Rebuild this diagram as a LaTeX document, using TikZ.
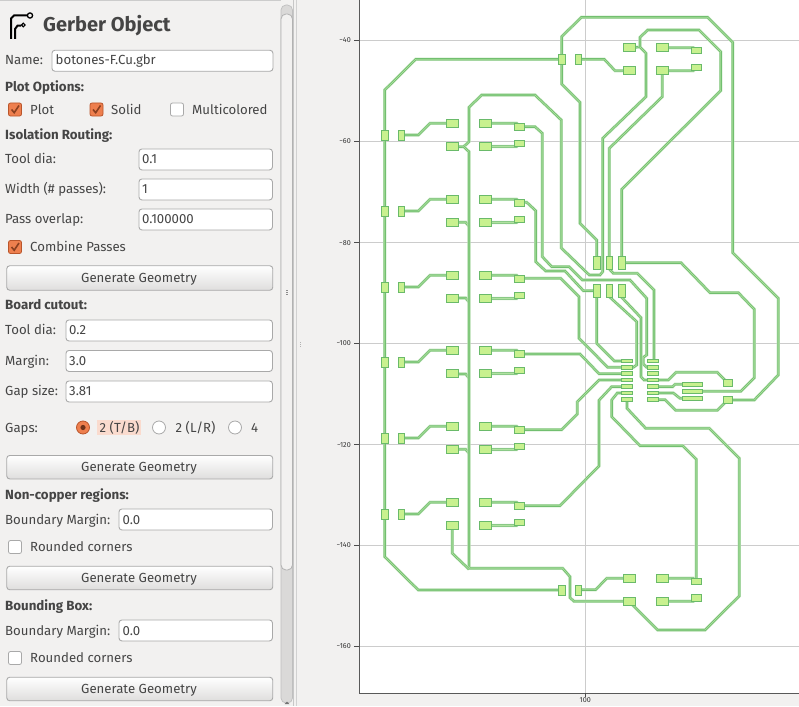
\documentclass[tikz,border=0pt]{standalone}
\usepackage{fontspec}
\setmainfont{Fira Sans}
\definecolor{uibg}{HTML}{F2F1F0}
\definecolor{uitext}{HTML}{454545}
\definecolor{uiline}{HTML}{A9A9A9}
\definecolor{orng}{HTML}{EE7F4E}
\definecolor{orngd}{HTML}{B9552B}
\definecolor{padfill}{HTML}{C8F18F}
\definecolor{tracedark}{HTML}{6ABA6A}
\definecolor{tracelight}{HTML}{B0E2A0}
\definecolor{halo}{HTML}{C6E6BF}
\definecolor{gridc}{HTML}{CCCCCC}
\tikzset{
  lab/.style={anchor=mid west,inner sep=0pt,text=uitext,font=\fontsize{13.2}{15}\selectfont,yshift=-2pt},
  head/.style={lab,font=\fontsize{13.3}{15}\selectfont\bfseries},
  entrybox/.style={anchor=north west,inner sep=0pt,draw=uiline,fill=white,rounded corners=3pt,line width=.9pt},
  entrytext/.style={lab},
  btn/.style={anchor=north west,inner sep=0pt,draw=uiline,rounded corners=3pt,line width=.9pt,top color=white,bottom color=uibg!92!black,minimum width=266pt},
  chkon/.style={anchor=center,inner sep=0pt,minimum size=13pt,draw=orngd,fill=orng,rounded corners=2pt,line width=.8pt},
  chkoff/.style={anchor=center,inner sep=0pt,minimum size=13pt,draw=uiline,fill=white,rounded corners=2pt,line width=.8pt},
  trace/.style={draw=tracedark,line width=2.1pt,line join=miter,
    preaction={draw=halo,line width=3.2pt},
    postaction={draw=tracelight,line width=.7pt}},
  pad/.style={draw=tracedark,fill=padfill,line width=.9pt,inner sep=0pt,anchor=center},
  padv/.style={pad,minimum width=6.5pt,minimum height=10pt},
  padr/.style={pad,minimum width=12pt,minimum height=8pt},
  pads/.style={pad,minimum width=10pt,minimum height=6.5pt},
  padt/.style={pad,minimum width=6.5pt,minimum height=13pt},
  padi/.style={pad,minimum width=11pt,minimum height=3.6pt},
  padw/.style={pad,minimum width=20pt,minimum height=4.4pt},
  padq/.style={pad,minimum width=9pt,minimum height=7pt},
  tick/.style={anchor=mid east,inner sep=0pt,text=black!80,font=\fontsize{7.2}{9}\selectfont},
}
\newcommand{\chkmark}[2]{\draw[orngd!75!black,line width=1.6pt] (#1-3.5,#2) -- (#1-.8,#2+3.2) -- (#1+4,#2-4);}
\begin{document}
\begin{tikzpicture}[x=1pt,y=-1pt]
\useasboundingbox (0,0) rectangle (799,706);
\fill[uibg] (0,0) rectangle (799,706);
% ---------- plot ----------
\fill[white] (359,0) rectangle (799,693);
\foreach \g in {40.3,141.3,242.7,343.3,444.5,545.3,646.3} \draw[gridc,line width=.8pt] (359,\g) -- (799,\g);
\draw[gridc,line width=.8pt] (585.3,0) -- (585.3,693);
\draw[black!65,line width=.9pt] (359,0) -- (359,693) -- (799,693);
\foreach \g/\t/\n in {40.3/40/a,141.3/60/b,242.7/80/c,343.3/100/d,444.5/120/e,545.3/140/f,646.3/160/g}{
  \draw[black!70,line width=.6pt] (354,\g) -- (359,\g);
  \node[tick] (tick\n) at (351,\g) {−\t};
}
\draw[black!70,line width=.6pt] (585.3,693) -- (585.3,697);
\node[inner sep=0pt,text=black!80,font=\fontsize{7.2}{9}\selectfont] (tickx) at (585.3,700.5) {100};
% ---------- traces ----------
\draw[trace] (561.7,59.3) -- (415.7,59.3) -- (384.7,90) -- (384.7,556.7) -- (418.3,590) -- (561.7,590);
\draw[trace] (727.7,400) -- (754.3,400) -- (778.3,375) -- (778.3,298.3) -- (732.7,252.7) -- (732.7,42.3) -- (707.7,17.3) -- (581.3,17.3) -- (561.7,36.7) -- (561.7,84) -- (580,102.3) -- (580,223.3) -- (596.7,240) -- (596.7,262.7);
\foreach \y in {135,211,287,362,438,514}{
  \draw[trace] (401.3,\y) -- (418.3,\y) -- (430,{\y-11.7}) -- (452.3,{\y-11.7});
  \draw[trace] (485.7,{\y-11.7}) -- (516.7,{\y-11.7}) -- (519.7,{\y-8.3});
  \draw[trace] (485.7,{\y+11.5}) -- (516.7,{\y+11.5}) -- (519.7,{\y+8.3});
}
\foreach \y in {222.3,298,374,449.3}{
  \draw[trace] (452.3,\y) -- (465.7,\y) -- (469,{\y+4});
}
\draw[trace] (452.3,146.7) -- (463.7,146.7) -- (469,141.7) -- (469,107.3) -- (481.7,95) -- (535,95) -- (561.3,120) -- (561.3,248) -- (589.3,275) -- (600,275) -- (602.7,271.7) -- (602.7,138.3) -- (646,96.7) -- (646,53.3) -- (640,47) -- (629,47.7);
\draw[trace] (463.7,146.7) -- (469,151.7) -- (469,568.3) -- (562.7,568.3) -- (570,576.7) -- (570,597.7) -- (574,601.3) -- (629,601.3);
\draw[trace] (452.3,525.3) -- (452.3,553.3) -- (469,569.3);
\draw[trace] (640,47) -- (640,37.3) -- (647.7,30) -- (699,30) -- (720.7,51.7) -- (720.7,90.7) -- (621.7,189.3) -- (621.7,262.7);
\draw[trace] (609.3,262.7) -- (609.3,148.3) -- (662.3,96.7) -- (662.3,70.7);
\draw[trace] (578.3,59.3) -- (604.3,59.3) -- (615,70.7) -- (629,70.7);
\draw[trace] (662.3,47.7) -- (693.3,47.7) -- (696.3,50.7);
\draw[trace] (662.3,70.7) -- (693.3,70.7) -- (696.3,67.7);
\draw[trace] (578.3,589.7) -- (595.7,589.7) -- (606.7,578.3) -- (629,578.3);
\draw[trace] (662.3,578.3) -- (693.3,578.3) -- (696.3,581.3);
\draw[trace] (662.3,601.3) -- (693.3,601.3) -- (696.3,598);
\draw[trace] (696.3,581.3) -- (696.3,459.3) -- (682.7,445.7) -- (640,445.7) -- (611.7,416.7) -- (611.7,400) -- (617.3,393) -- (627,393);
\draw[trace] (520,278.3) -- (560.7,278.3) -- (579,296.7) -- (579,338.3) -- (607.7,367.3) -- (627,367.3);
\draw[trace] (596.7,290.7) -- (596.7,343.3) -- (614.3,361) -- (627,361);
\draw[trace] (519.7,202.3) -- (526.7,202.3) -- (535.7,210.7) -- (535.7,261.7) -- (545.7,271) -- (565,271) -- (583.3,290.7) -- (596.7,290.7);
\draw[trace] (519.7,126.7) -- (535,126.7) -- (542.3,133.3) -- (542.3,256.7) -- (551.7,266.7) -- (569,266.7) -- (582.3,280) -- (630,280) -- (646.7,298.3) -- (646.7,355) -- (643.3,357.3) -- (643.3,364) -- (646.7,367.3) -- (653,367.3);
\draw[trace] (609.3,262.7) -- (609.3,269) -- (613.3,273.3) -- (637.3,273.3) -- (654,290) -- (654,361);
\draw[trace] (621.7,262.7) -- (681,262.7) -- (710,292.7) -- (738.3,292.7) -- (754.3,309.3) -- (754.3,377.7) -- (740.7,391.3) -- (692.3,391.3);
\draw[trace] (609.3,290.7) -- (609.3,296.7) -- (636.7,321.7) -- (636.7,365) -- (633.3,367.3) -- (627,367.3);
\draw[trace] (621.7,290.7) -- (621.7,297.3) -- (641,317.7) -- (641,376.7) -- (644,380) -- (668.3,380) -- (676,372.3) -- (717.3,372.3) -- (727.7,383);
\draw[trace] (653,386.7) -- (672.7,386.7) -- (675,384.3) -- (692.3,384.3);
\draw[trace] (653,393) -- (673.3,393) -- (680,398.3) -- (692.3,398.3);
\draw[trace] (653,399.7) -- (665,399.7) -- (675.7,410.3) -- (717.3,410.3) -- (727.7,400);
\draw[trace] (519.7,354) -- (580,354) -- (599,373.7) -- (627,373.7);
\draw[trace] (627,380) -- (599,380) -- (577.3,401.7) -- (577.3,414) -- (561.7,429.7) -- (519.7,429.7);
\draw[trace] (627,386.7) -- (611.7,386.7) -- (599,400.3) -- (599,466) -- (560,505.7) -- (519.7,505.7);
\draw[trace] (627,399.7) -- (627,408.3) -- (645.7,428.3) -- (709.3,428.3) -- (739.3,458.3) -- (739.3,596) -- (705,630) -- (657.7,630) -- (629,601.3);
% ---------- pads ----------
\foreach \y/\n in {135/1,211/2,287/3,362/4,438/5,514/6}{
  \node[padv] (a\n) at (384.7,\y) {};
  \node[padv] (b\n) at (401.3,\y) {};
  \node[padr] (ct\n) at (452.3,{\y-11.7}) {};
  \node[padr] (cb\n) at (452.3,{\y+11.5}) {};
  \node[padr] (dt\n) at (485.7,{\y-11.7}) {};
  \node[padr] (db\n) at (485.7,{\y+11.5}) {};
  \node[pads] (et\n) at (519.7,{\y-8.3}) {};
  \node[pads] (eb\n) at (519.7,{\y+8.3}) {};
}
\node[padv] (f1) at (561.7,59.3) {};
\node[padv] (g1) at (578.3,59.3) {};
\node[padv] (f2) at (561.7,590) {};
\node[padv] (g2) at (578.3,590) {};
\foreach \x/\n in {629/h,662.3/k}{
  \node[padr] (\n1) at (\x,47.7) {};
  \node[padr] (\n2) at (\x,70.7) {};
  \node[padr] (\n3) at (\x,578.3) {};
  \node[padr] (\n4) at (\x,601.3) {};
}
\node[pads] (m1) at (696.3,50.7) {};
\node[pads] (m2) at (696.3,67.7) {};
\node[pads] (m3) at (696.3,581.3) {};
\node[pads] (m4) at (696.3,598) {};
\foreach \x/\n in {596.7/1,609.3/2,621.7/3}{
  \node[padt] (ht\n) at (\x,262.7) {};
  \node[padt] (hb\n) at (\x,290.7) {};
}
\foreach \y/\n in {361/1,367.3/2,373.7/3,380/4,386.7/5,393/6,399.7/7}{
  \node[padi] (il\n) at (627,\y) {};
  \node[padi] (ir\n) at (653.3,\y) {};
}
\node[padw] (w1) at (692.3,384.3) {};
\node[padw] (w2) at (692.3,391.3) {};
\node[padw] (w3) at (692.3,398.3) {};
\node[padq] (q1) at (727.7,383) {};
\node[padq] (q2) at (727.7,400) {};
% ---------- panel ----------
\draw[black!20,line width=1pt] (0,0.5) -- (281,0.5);
\draw[black!22,line width=.8pt] (293.3,0) -- (293.3,706);
\draw[black!18,line width=.8pt] (296.7,0) -- (296.7,706);
% scrollbar
\draw[black!25,fill=uibg!90!black,rounded corners=5pt,line width=.7pt] (281,5) rectangle (292.5,703);
\draw[black!30,fill=uibg!97!white,rounded corners=5pt,line width=.8pt] (281,14) rectangle (292.5,570);
\foreach \d in {289.5,291.5,293.5} \fill[black!45] (286,\d) rectangle (288,\d+1);
\foreach \d in {342,344,346} \fill[black!30] (299.5,\d) rectangle (301,\d+1);
\fill[black!55] (284.5,704) -- (289.5,704) -- (287,701.5) -- cycle;
% icon
\draw[black,line width=2pt] (11,39) -- (11,18.5) -- (14,15.5) -- (27,15.5);
\draw[black,line width=1.3pt] (30,15.5) circle (2.6);
\draw[black,line width=2pt] (15,39) -- (15,29) -- (17.5,25.7) -- (21,25.7);
\draw[black,line width=1.1pt] (23.3,25) circle (1.8);
\node[lab,font=\fontsize{20}{22}\selectfont\bfseries] (title) at (43,26.5) {Gerber Object};
% name
\node[lab] (lname) at (5,60) {Name:};
\node[entrybox,minimum width=221pt,minimum height=21pt] (ename) at (51.5,49.8) {};
\node[entrytext] (tname) at (55.5,60) {botones-F.Cu.gbr};
\node[head] (hplot) at (5,87) {Plot Options:};
\node[chkon] (c1) at (15,109.5) {}; \chkmark{15}{109.5}
\node[lab] (l1) at (30,109.5) {Plot};
\node[chkon] (c2) at (96.5,109.5) {}; \chkmark{96.5}{109.5}
\node[lab] (l2) at (111,109.5) {Solid};
\node[chkoff] (c3) at (177,109.5) {};
\node[lab] (l3) at (192,109.5) {Multicolored};
\node[head] (hiso) at (5,134.5) {Isolation Routing:};
\foreach \y/\t/\v/\n in {159/Tool dia:/0.1/a,189/Width (\# passes):/1/b,219/Pass overlap:/0.100000/c}{
  \node[lab] (l\n) at (5,\y) {\t};
  \node[entrybox,minimum width=133.5pt,minimum height=21pt] (e\n) at (138.5,\y-10.5) {};
  \node[entrytext] (t\n) at (142,\y) {\v};
}
\node[chkon] (c4) at (15,247) {}; \chkmark{15}{247}
\node[lab] (l4) at (30,247) {Combine Passes};
\node[btn,minimum height=24.5pt] (b1) at (6.3,265.3) {};
\node[lab,anchor=center] (tb1) at (139,277) {Generate Geometry};
\node[head] (hboard) at (5,305) {Board cutout:};
\foreach \y/\t/\v/\n in {330/Tool dia:/0.2/d,360.5/Margin:/3.0/e,391/Gap size:/3.81/f}{
  \node[lab] (l\n) at (5,\y) {\t};
  \node[entrybox,minimum width=206.5pt,minimum height=21pt] (e\n) at (65.5,\y-10.5) {};
  \node[entrytext] (t\n) at (69,\y) {\v};
}
\node[lab] (lgaps) at (5,427.5) {Gaps:};
\fill[orng!28!white] (97,419.5) rectangle (141,435);
\node[circle,inner sep=0pt,minimum size=13pt,draw=orngd,fill=orng,line width=.8pt] (r1) at (83,427.5) {};
\fill[orngd!60!black] (83,427.5) circle (2.6);
\node[lab] (tr1) at (99.5,427.5) {2 (T/B)};
\node[circle,inner sep=0pt,minimum size=13pt,draw=uiline,fill=white,line width=.8pt] (r2) at (159,427.5) {};
\node[lab] (tr2) at (175.5,427.5) {2 (L/R)};
\node[circle,inner sep=0pt,minimum size=13pt,draw=uiline,fill=white,line width=.8pt] (r3) at (235,427.5) {};
\node[lab] (tr3) at (251,427.5) {4};
\node[btn,minimum height=23.5pt] (b2) at (6.3,455) {};
\node[lab,anchor=center] (tb2) at (139,466) {Generate Geometry};
\node[head] (hnon) at (5,495) {Non-copper regions:};
\node[lab] (lbm1) at (5,519.5) {Boundary Margin:};
\node[entrybox,minimum width=153.5pt,minimum height=21pt] (ebm1) at (118.5,508.5) {};
\node[entrytext] (tbm1) at (122.5,519.5) {0.0};
\node[chkoff] (c5) at (15,547) {};
\node[lab] (l5) at (30,547) {Rounded corners};
\node[btn,minimum height=23.5pt] (b3) at (6.3,565.8) {};
\node[lab,anchor=center] (tb3) at (139,577) {Generate Geometry};
\node[head] (hbox) at (5,606) {Bounding Box:};
\node[lab] (lbm2) at (5,630.5) {Boundary Margin:};
\node[entrybox,minimum width=153.5pt,minimum height=21pt] (ebm2) at (118.5,619.5) {};
\node[entrytext] (tbm2) at (122.5,630.5) {0.0};
\node[chkoff] (c6) at (15,658) {};
\node[lab] (l6) at (30,658) {Rounded corners};
\node[btn,minimum height=23.5pt] (b4) at (6.3,676.8) {};
\node[lab,anchor=center] (tb4) at (139,688) {Generate Geometry};
\end{tikzpicture}
\end{document}
